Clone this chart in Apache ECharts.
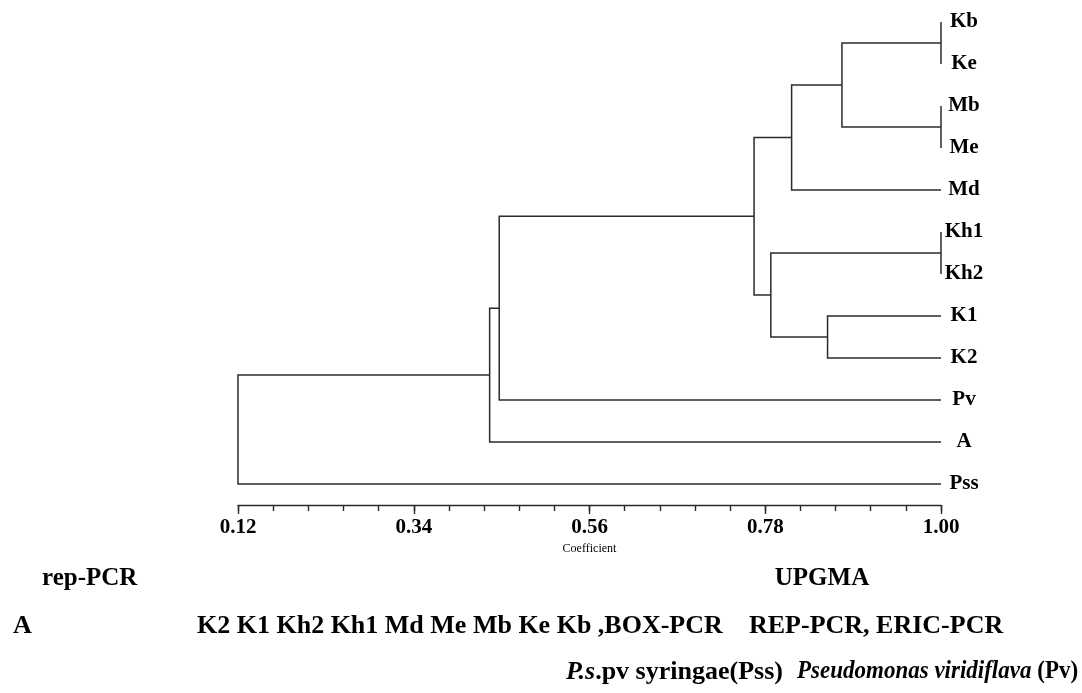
<!DOCTYPE html>
<html><head><meta charset="utf-8">
<script src="https://cdn.jsdelivr.net/npm/echarts@6/dist/echarts.min.js"></script>
<style>html,body{margin:0;padding:0;background:#fff}#c{width:1082px;height:693px}</style>
</head><body><div id="c"></div>
<script>
// ---- data ----
const leaves = ['Kb','Ke','Mb','Me','Md','Kh1','Kh2','K1','K2','Pv','A','Pss'];
// UPGMA joins: node n(i+1) joins joinLeft[i] and joinRight[i] at similarity joinLevel[i]
const joinLeft  = ['Kb','Mb','Kh1','n1','K1','n4','n3','n6','n8','n9','n10'];
const joinRight = ['Ke','Me','Kh2','n2','K2','Md','n5','n7','Pv','A','Pss'];
const joinLevel = [1.00, 1.00, 1.00, 0.876, 0.858, 0.813, 0.787, 0.766, 0.447, 0.435, 0.12];
const tickLabels = ['0.12','0.34','0.56','0.78','1.00'];
const axisName = 'Coefficient';
const captionTop = ['rep-PCR', 'UPGMA'];
const captionMid = ['A', 'K2 K1 Kh2 Kh1 Md Me Mb Ke Kb ,BOX-PCR', 'REP-PCR, ERIC-PCR'];

// ---- build tree geometry in data units ----
const pos = {};
leaves.forEach((n, i) => { pos[n] = { x: 1.00, y: i }; });
const treeData = [];
joinLeft.forEach((l, i) => {
  const r = joinRight[i], lv = joinLevel[i];
  const a = pos[l], b = pos[r];
  treeData.push([a.x, a.y, lv, b.y, b.x]);
  pos['n' + (i + 1)] = { x: lv, y: (a.y + b.y) / 2 };
});
const labelData = leaves.map((n, i) => [1.00, i, n]);

const majorTicks = tickLabels.map(Number);
const minorTicks = [];
for (let k = 0; k < majorTicks.length - 1; k++) {
  const a = majorTicks[k], b = majorTicks[k + 1];
  for (let j = 0; j < 5; j++) minorTicks.push(+(a + (b - a) * j / 5).toFixed(4));
}
minorTicks.push(majorTicks[majorTicks.length - 1]);

const SERIF = '"Liberation Serif","Times New Roman",serif';
const LINE = '#2b2b2b';

const chart = echarts.init(document.getElementById('c'), null, { renderer: 'canvas' });
chart.setOption({
  backgroundColor: '#fff',
  animation: false,
  grid: { left: 238, width: 703, top: 1, height: 504 },
  xAxis: [
    {
      type: 'value', min: 0.12, max: 1.00, position: 'bottom',
      axisLine: { show: true, onZero: false, lineStyle: { color: LINE, width: 1.4 } },
      axisTick: { show: true, customValues: majorTicks, length: 9, lineStyle: { color: LINE, width: 1.4 } },
      axisLabel: { show: true, customValues: majorTicks, margin: 12, formatter: v => v.toFixed(2),
        fontFamily: SERIF, fontWeight: 'bold', fontSize: 21, color: '#000' },
      splitLine: { show: false },
      name: axisName, nameLocation: 'middle', nameGap: 34,
      nameTextStyle: { fontFamily: SERIF, fontSize: 12, color: '#000' }
    },
    {
      type: 'value', min: 0.12, max: 1.00, position: 'bottom', offset: 0,
      axisLine: { show: false, onZero: false },
      axisTick: { show: true, customValues: minorTicks, length: 6, lineStyle: { color: LINE, width: 1.4 } },
      axisLabel: { show: false },
      splitLine: { show: false }
    }
  ],
  yAxis: { type: 'value', min: -0.5, max: 11.5, inverse: true, show: false },
  series: [
    {
      type: 'custom',
      xAxisIndex: 0,
      data: treeData,
      encode: { x: [0, 2, 4], y: [1, 3] },
      renderItem: (params, api) => {
        const p1 = api.coord([api.value(0), api.value(1)]);
        const p2 = api.coord([api.value(2), api.value(1)]);
        const p3 = api.coord([api.value(2), api.value(3)]);
        const p4 = api.coord([api.value(4), api.value(3)]);
        return { type: 'polyline', shape: { points: [p1, p2, p3, p4] },
          style: { stroke: LINE, lineWidth: 1.5, fill: null } };
      },
      silent: true
    },
    {
      type: 'scatter',
      xAxisIndex: 0,
      data: labelData,
      symbolSize: 0,
      clip: false,
      itemStyle: { color: '#000', opacity: 1 },
      labelLayout: { hideOverlap: false },
      label: { show: true, position: 'right', distance: 23, align: 'center', verticalAlign: 'middle',
        formatter: p => p.data[2], fontFamily: SERIF, fontWeight: 'bold', fontSize: 21, color: '#000', opacity: 1 },
      silent: true
    }
  ],
  graphic: [
    { type: 'text', x: 42, y: 579, style: { text: captionTop[0], font: 'bold 25px ' + SERIF, fill: '#000', align: 'left', verticalAlign: 'middle' } },
    { type: 'text', x: 822, y: 579, style: { text: captionTop[1], font: 'bold 25px ' + SERIF, fill: '#000', align: 'center', verticalAlign: 'middle' } },
    { type: 'text', x: 13, y: 626, style: { text: captionMid[0], font: 'bold 26px ' + SERIF, fill: '#000', align: 'left', verticalAlign: 'middle' } },
    { type: 'text', x: 197, y: 626, style: { text: captionMid[1], font: 'bold 26px ' + SERIF, fill: '#000', align: 'left', verticalAlign: 'middle' } },
    { type: 'text', x: 749, y: 626, style: { text: captionMid[2], font: 'bold 26px ' + SERIF, fill: '#000', align: 'left', verticalAlign: 'middle' } },
    { type: 'text', x: 566, y: 672, style: { text: '{i|P.s}.pv syringae(Pss)', font: 'bold 26px ' + SERIF, fill: '#000', align: 'left', verticalAlign: 'middle',
        rich: { i: { fontStyle: 'italic', fontWeight: 'bold', fontSize: 26, fontFamily: SERIF, fill: '#000' } } } },
    { type: 'text', x: 797, y: 672, scaleX: 0.92, style: { text: '{i|Pseudomonas viridiflava} (Pv)', font: 'bold 25px ' + SERIF, fill: '#000', align: 'left', verticalAlign: 'middle',
        rich: { i: { fontStyle: 'italic', fontWeight: 'bold', fontSize: 25, fontFamily: SERIF, fill: '#000' } } } }
  ]
});
</script>
</body></html>
